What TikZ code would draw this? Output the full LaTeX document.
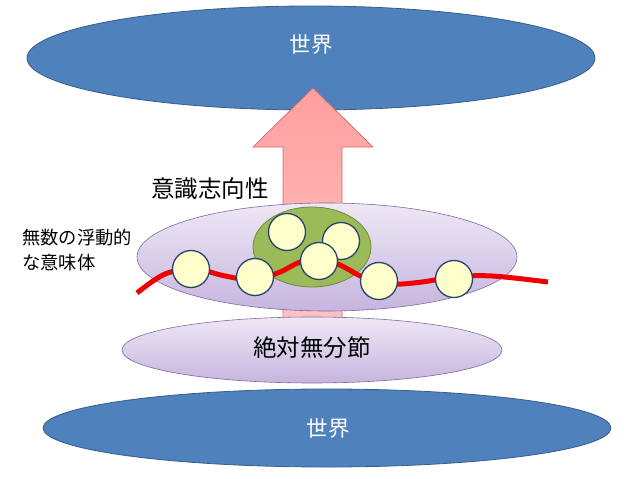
\documentclass[tikz,border=0pt]{standalone}
\usepackage{fontspec}
\setmainfont{Noto Sans CJK JP}
\definecolor{wblue}{HTML}{4F81BD}
\definecolor{wblueb}{HTML}{385D8A}
\definecolor{apink}{HTML}{FF9E9E}
\definecolor{apinkl}{HTML}{FFC4C4}
\definecolor{apinkb}{HTML}{D06A6A}
\definecolor{lavt}{HTML}{EEE8F5}
\definecolor{lavb}{HTML}{C6B5DF}
\definecolor{lavbord}{HTML}{7F6A9F}
\definecolor{gfill}{HTML}{9BBB59}
\definecolor{gbord}{HTML}{71893F}
\definecolor{cyel}{HTML}{FFFFCC}
\definecolor{cbord}{HTML}{24456A}
\definecolor{rline}{HTML}{F00000}
\begin{document}
\begin{tikzpicture}[x=1pt,y=-1pt,
  worldshape/.style={fill=wblue,draw=wblueb,line width=0.8pt},
  lavshape/.style={top color=lavt,bottom color=lavb,draw=lavbord,line width=0.6pt},
  bubble/.style={circle,fill=cyel,draw=cbord,line width=1.3pt,minimum size=37pt,inner sep=0pt},
  worldtext/.style={text=white,font=\fontsize{21.5}{24}\selectfont,inner sep=0pt},
  bigtext/.style={text=black,font=\fontsize{23.5}{26}\selectfont,inner sep=0pt},
  smalltext/.style={text=black,font=\fontsize{18.3}{24.5}\selectfont,inner sep=0pt,align=left}]
\useasboundingbox (0,0) rectangle (638,479);
% top world
\path[worldshape] (311,58) ellipse [x radius=284, y radius=52];
% arrow
\draw[top color=apink,bottom color=apinkl,draw=apinkb,line width=0.7pt]
  (283,335) -- (283,147) -- (253,147) -- (313,88) -- (373,147) -- (342,147) -- (342,335) -- cycle;
% bottom world
\path[worldshape] (327,428) ellipse [x radius=284, y radius=39];
% lower lavender ellipse
\path[lavshape] (312,350) ellipse [x radius=190, y radius=33];
% middle lavender ellipse
\path[lavshape] (327,257) ellipse [x radius=190, y radius=54];
% green ellipse
\path[fill=gfill,draw=gbord,line width=0.8pt] (312,247) ellipse [x radius=59, y radius=40];
% red line
\draw[rline,line width=5pt] plot[smooth,tension=0.6] coordinates
  {(137,293) (165,274) (195,269) (225,276) (255,280) (280,272) (300,262) (319,258) (340,265) (365,278) (392,284) (422,282) (454,277) (492,276) (548,282)};
% bubbles
\node[bubble] (b1) at (191,269) {};
\node[bubble] (b2) at (255,277) {};
\node[bubble] (b3) at (287,232) {};
\node[bubble] (b4) at (341,241) {};
\node[bubble] (b5) at (319,261) {};
\node[bubble] (b6) at (379,281) {};
\node[bubble] (b7) at (454,279) {};
% texts
\node[worldtext] (wt) at (311,44) {世界};
\node[worldtext] (wb) at (328,428) {世界};
\node[bigtext] (ishiki) at (210,189) {意識志向性};
\node[bigtext] (zettai) at (312,348) {絶対無分節};
\node[smalltext,anchor=north west] (mus) at (22,229) {無数の浮動的\\な意味体};
\end{tikzpicture}
\end{document}
